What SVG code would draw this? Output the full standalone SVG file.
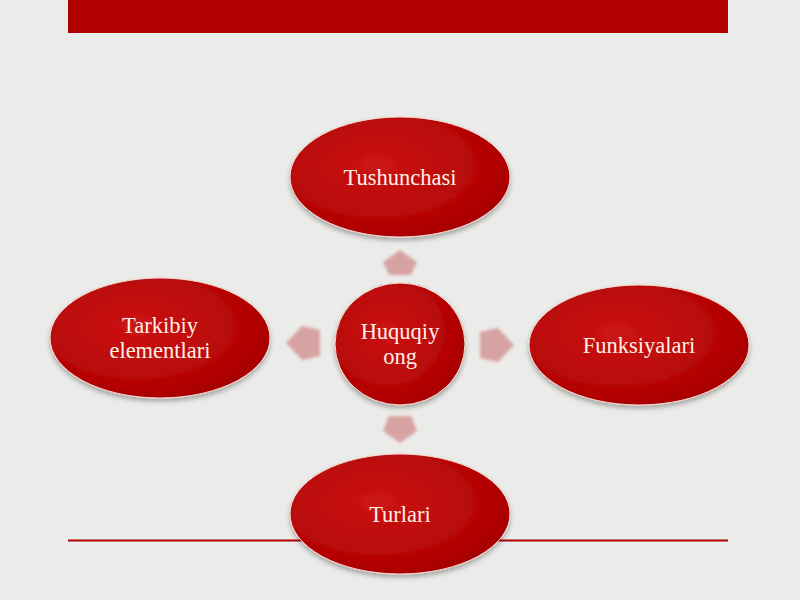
<svg xmlns="http://www.w3.org/2000/svg" width="800" height="600" viewBox="0 0 800 600">
<defs>
<radialGradient id="rg" cx="0.4" cy="0.4" r="0.7">
<stop offset="0" stop-color="#CC1414"/>
<stop offset="0.7" stop-color="#B50505"/>
<stop offset="1" stop-color="#A00000"/>
</radialGradient>
<filter id="sh" x="-20%" y="-20%" width="140%" height="150%">
<feGaussianBlur in="SourceAlpha" stdDeviation="2.5"/>
<feOffset dx="0" dy="3" result="b"/>
<feFlood flood-color="#000" flood-opacity="0.3"/>
<feComposite in2="b" operator="in"/>
<feMerge><feMergeNode/><feMergeNode in="SourceGraphic"/></feMerge>
</filter>
<filter id="bl" x="-30%" y="-30%" width="160%" height="160%">
<feGaussianBlur stdDeviation="1.5"/>
</filter>
<style>
.node{fill:url(#rg);stroke:#f5d8d0;stroke-width:1;filter:url(#sh)}
.lbl{font-family:"Liberation Serif","Times New Roman",serif;font-size:22.5px;fill:#fff0e6;text-anchor:middle}
.arr{fill:#D49696;opacity:0.85;filter:url(#bl)}
</style>
</defs>
<rect width="800" height="600" fill="#EBEBE9"/>
<rect x="68" y="0" width="660" height="33" fill="#B10000"/>
<line x1="68" y1="540.5" x2="728" y2="540.5" stroke="#B00000" stroke-width="2"/>
<g id="connectors">
<polygon class="arr" points="400,250 417,262 411,275 389,275 383,262"/>
<polygon class="arr" points="286,343 302,326 320,330 320,356 302,360"/>
<polygon class="arr" points="514,345 498,328 480,332 480,358 498,362"/>
<polygon class="arr" points="400,443 417,431 411,416 389,416 383,431"/>
</g>
<g id="n-tushunchasi">
<ellipse class="node" cx="400" cy="177" rx="110" ry="60"/>
<text class="lbl" x="400" y="185">Tushunchasi</text>
</g>
<g id="n-center">
<ellipse class="node" cx="400" cy="344" rx="65" ry="61"/>
<text class="lbl" x="400" y="339">Huquqiy</text>
<text class="lbl" x="400" y="364">ong</text>
</g>
<g id="n-tarkibiy">
<ellipse class="node" cx="160" cy="338" rx="110" ry="60"/>
<text class="lbl" x="160" y="333">Tarkibiy</text>
<text class="lbl" x="160" y="358">elementlari</text>
</g>
<g id="n-funksiyalari">
<ellipse class="node" cx="639" cy="345" rx="110" ry="60"/>
<text class="lbl" x="639" y="353">Funksiyalari</text>
</g>
<g id="n-turlari">
<ellipse class="node" cx="400" cy="514" rx="110" ry="60"/>
<text class="lbl" x="400" y="522">Turlari</text>
</g>
</svg>
